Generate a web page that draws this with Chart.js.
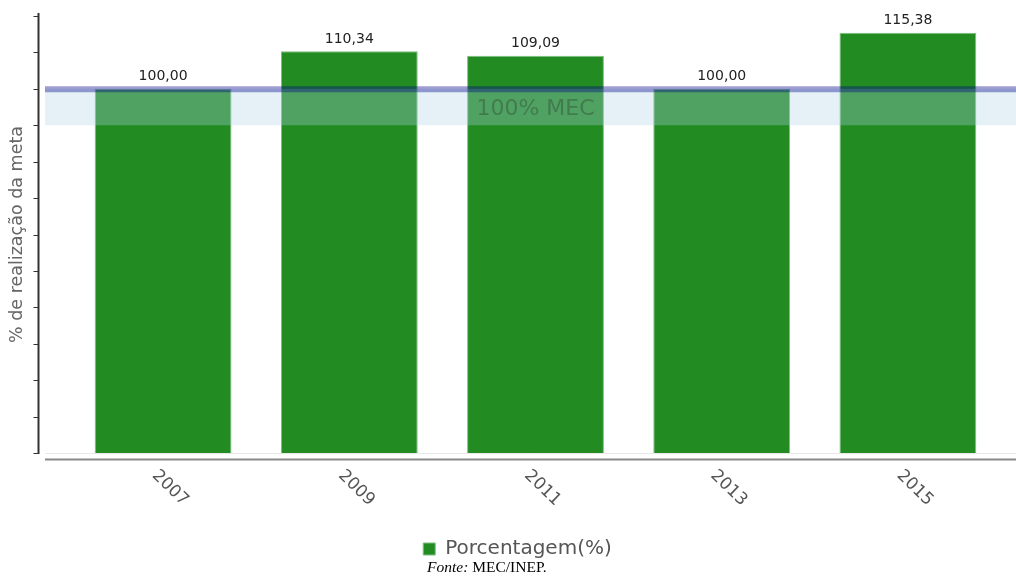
<!DOCTYPE html>
<html>
<head>
<meta charset="utf-8">
<script src="https://cdn.jsdelivr.net/npm/chart.js@4"></script>
<style>
  html, body { margin: 0; padding: 0; background: #fff; }
  #wrap { position: relative; width: 1016px; height: 585px; }
  #fonte { position: absolute; left: 427px; top: 558px; font: 15.5px "Liberation Serif", serif; color: #000; }
</style>
</head>
<body>
<div id="wrap">
  <canvas id="chart" width="1016" height="585"></canvas>
  <div id="fonte"><i>Fonte:</i> MEC/INEP.</div>
</div>
<script>
// dados
const anos = ['2007', '2009', '2011', '2013', '2015'];
const porcentagem = [100.00, 110.34, 109.09, 100.00, 115.38];
const metaMEC = 100;
const faixaMEC = [90, 100];
const rotuloMeta = '100% MEC';

const FONT = '"DejaVu Sans", Verdana, sans-serif';

// eixos, faixa da meta e rótulos desenhados à mão (estilo do gráfico original)
const extras = {
  id: 'extras',
  afterDatasetsDraw(chart) {
    const { ctx, chartArea, scales: { x, y } } = chart;
    const W = chart.width;
    const x0 = chartArea.left - 25;

    ctx.save();
    // faixa 90-100
    const yTop = y.getPixelForValue(faixaMEC[1]);
    const yBot = y.getPixelForValue(faixaMEC[0]);
    ctx.fillStyle = 'rgba(173,213,230,0.32)';
    ctx.fillRect(x0, yTop, W - x0, yBot - yTop);

    // linha da meta
    ctx.strokeStyle = 'rgba(0,0,139,0.38)';
    ctx.lineWidth = 6;
    ctx.beginPath();
    ctx.moveTo(x0, y.getPixelForValue(metaMEC) + 0.5);
    ctx.lineTo(W, y.getPixelForValue(metaMEC) + 0.5);
    ctx.stroke();

    // texto da faixa
    ctx.fillStyle = 'rgba(40,40,40,0.32)';
    ctx.font = '22px ' + FONT;
    ctx.textAlign = 'center';
    ctx.textBaseline = 'middle';
    ctx.fillText(rotuloMeta, (chartArea.left + chartArea.right) / 2, (yTop + yBot) / 2 + 2);

    // valores sobre as barras
    const meta = chart.getDatasetMeta(0);
    ctx.fillStyle = '#222';
    ctx.font = '14px ' + FONT;
    ctx.textBaseline = 'bottom';
    meta.data.forEach((bar, i) => {
      ctx.fillText(porcentagem[i].toFixed(2).replace('.', ','), bar.x, bar.y - 5);
    });

    // eixo y
    const ax = chartArea.left - 31.5;
    ctx.strokeStyle = '#333';
    ctx.lineWidth = 2;
    ctx.beginPath();
    ctx.moveTo(ax, 13);
    ctx.lineTo(ax, chartArea.bottom + 1);
    ctx.stroke();
    ctx.lineWidth = 1;
    y.ticks.forEach(t => {
      const py = Math.round(y.getPixelForValue(t.value)) + 0.5;
      ctx.beginPath();
      ctx.moveTo(ax - 5, py);
      ctx.lineTo(ax, py);
      ctx.stroke();
    });

    // base do gráfico e eixo x
    ctx.strokeStyle = '#e8e8e8';
    ctx.lineWidth = 1;
    ctx.beginPath();
    ctx.moveTo(x0, chartArea.bottom + 0.5);
    ctx.lineTo(W, chartArea.bottom + 0.5);
    ctx.stroke();
    ctx.strokeStyle = '#888';
    ctx.lineWidth = 2;
    ctx.beginPath();
    ctx.moveTo(x0, chartArea.bottom + 6.5);
    ctx.lineTo(W, chartArea.bottom + 6.5);
    ctx.stroke();

    // rótulos do eixo x, inclinados para baixo
    ctx.fillStyle = '#555';
    ctx.font = '17px ' + FONT;
    ctx.textAlign = 'center';
    ctx.textBaseline = 'middle';
    anos.forEach((a, i) => {
      const px = x.getPixelForTick(i);
      ctx.save();
      ctx.translate(px + 7, chartArea.bottom + 35);
      ctx.rotate(44 * Math.PI / 180);
      ctx.fillText(a, 0, 0);
      ctx.restore();
    });
    ctx.restore();
  }
};

new Chart(document.getElementById('chart'), {
  type: 'bar',
  data: {
    labels: anos,
    datasets: [{
      label: 'Porcentagem(%)',
      data: porcentagem,
      backgroundColor: '#228B22',
      borderColor: '#7dbf7d',
      borderWidth: 1,
      categoryPercentage: 1,
      barPercentage: 0.735
    }]
  },
  options: {
    responsive: false,
    animation: false,
    layout: { padding: { top: 16, left: 34, right: 15, bottom: 16 } },
    plugins: {
      legend: {
        position: 'bottom',
        labels: {
          boxWidth: 12,
          boxHeight: 12,
          padding: 10,
          color: '#555',
          font: { family: FONT, size: 20 }
        }
      },
      tooltip: { enabled: false }
    },
    scales: {
      x: {
        ticks: { display: false },
        grid: { display: false },
        border: { display: false },
        afterFit(s) { s.height = 76; }
      },
      y: {
        min: 0,
        max: 120,
        ticks: { display: false, stepSize: 10 },
        grid: { display: false },
        border: { display: false },
        title: {
          display: true,
          text: '% de realização da meta',
          color: '#666',
          font: { family: FONT, size: 17.5 },
          padding: { top: -27, bottom: 0 }
        },
        afterFit(s) { s.width = 36; }
      }
    }
  },
  plugins: [extras]
});
</script>
</body>
</html>
